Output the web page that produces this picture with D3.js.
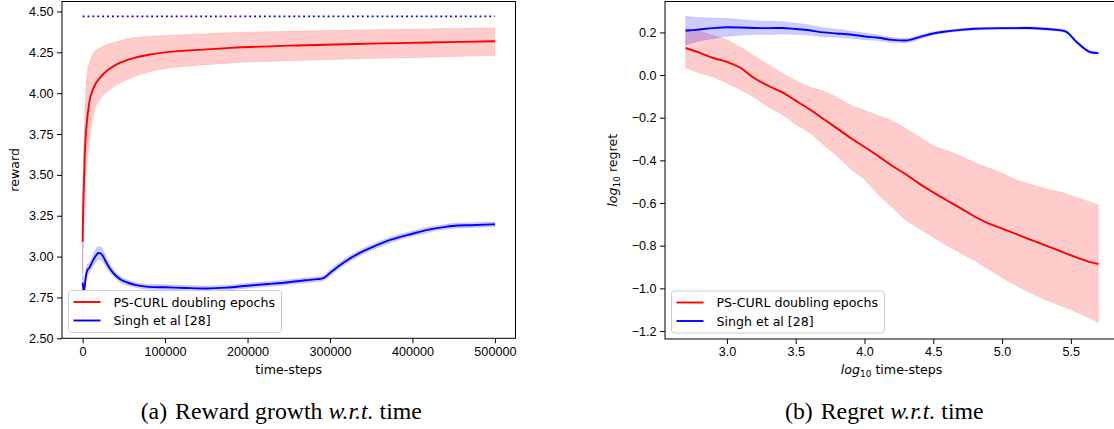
<!DOCTYPE html>
<html>
<head>
<meta charset="utf-8">
<script src="https://cdn.jsdelivr.net/npm/d3@7"></script>
<style>
  body { margin: 0; background: #fff; }
  svg { display: block; font-family: "DejaVu Sans", sans-serif; }
  .tick text { font-size: 12.6px; fill: #000; }
  .tick line { stroke: #000; }
</style>
</head>
<body>
<svg id="chart" width="1114" height="429"></svg>
<script>
// ---- (a) reward vs time-steps ----
const rewardTicksX = [0, 100000, 200000, 300000, 400000, 500000];
const rewardTicksY = [2.5, 2.75, 3.0, 3.25, 3.5, 3.75, 4.0, 4.25, 4.5];
const optimalReward = 4.47;

const curlT = [0, 500, 1000, 1500, 2500, 3500, 5500, 8000, 14000, 22000, 30000, 45000, 62000, 80000, 100000, 140000, 180000, 260000, 350000, 420000, 500000];
const curlReward = [3.09, 3.25, 3.36, 3.43, 3.60, 3.72, 3.84, 3.94, 4.04, 4.10, 4.14, 4.185, 4.215, 4.235, 4.25, 4.265, 4.277, 4.292, 4.303, 4.31, 4.318];
const curlRewardHi = [3.30, 3.50, 3.62, 3.72, 3.88, 3.98, 4.12, 4.18, 4.25, 4.28, 4.30, 4.32, 4.34, 4.348, 4.353, 4.362, 4.37, 4.38, 4.388, 4.394, 4.40];
const curlRewardLo = [2.90, 3.00, 3.08, 3.14, 3.30, 3.45, 3.58, 3.70, 3.88, 3.97, 4.01, 4.06, 4.10, 4.13, 4.15, 4.17, 4.185, 4.20, 4.212, 4.22, 4.23];

const singhT = [0, 1000, 2000, 3000, 4000, 6000, 8000, 10000, 13000, 16000, 19000, 22000, 25000, 28000, 32000, 38000, 46000, 55000, 65000, 80000, 100000, 125000, 150000, 175000, 200000, 225000, 250000, 270000, 285000, 292000, 300000, 310000, 320000, 335000, 350000, 375000, 400000, 420000, 440000, 455000, 470000, 500000];
const singhReward = [2.84, 2.80, 2.795, 2.84, 2.88, 2.92, 2.93, 2.95, 2.98, 3.005, 3.022, 3.02, 3.0, 2.97, 2.935, 2.895, 2.86, 2.84, 2.825, 2.815, 2.812, 2.808, 2.805, 2.81, 2.822, 2.832, 2.843, 2.855, 2.862, 2.868, 2.9, 2.94, 2.975, 3.02, 3.055, 3.105, 3.14, 3.165, 3.182, 3.19, 3.192, 3.198];
const singhRewardSpread = [0.245, 0.06, 0.04, 0.035, 0.035, 0.035, 0.03, 0.03, 0.035, 0.04, 0.04, 0.04, 0.035, 0.03, 0.025, 0.02, 0.018, 0.016, 0.015, 0.015, 0.015, 0.015, 0.015, 0.015, 0.015, 0.015, 0.015, 0.015, 0.015, 0.015, 0.018, 0.018, 0.018, 0.018, 0.018, 0.017, 0.016, 0.016, 0.015, 0.015, 0.015, 0.015];

// ---- (b) log10 regret vs log10 time-steps ----
const regretTicksX = [3.0, 3.5, 4.0, 4.5, 5.0, 5.5];
const regretTicksY = [-1.2, -1.0, -0.8, -0.6, -0.4, -0.2, 0.0, 0.2];
const logT = [2.7, 2.8, 2.9, 3.0, 3.1, 3.2, 3.3, 3.4, 3.5, 3.6, 3.7, 3.8, 3.9, 4.0, 4.1, 4.2, 4.3, 4.4, 4.5, 4.6, 4.7, 4.8, 4.9, 5.0, 5.1, 5.2, 5.3, 5.4, 5.46, 5.55, 5.64, 5.7];
const curlRegret = [0.127, 0.105, 0.08, 0.062, 0.033, -0.015, -0.05, -0.08, -0.12, -0.16, -0.205, -0.25, -0.295, -0.337, -0.38, -0.425, -0.465, -0.51, -0.55, -0.588, -0.625, -0.663, -0.695, -0.72, -0.745, -0.77, -0.795, -0.82, -0.835, -0.857, -0.877, -0.886];
const curlRegretHi = [0.22, 0.205, 0.185, 0.165, 0.13, 0.09, 0.05, 0.01, -0.025, -0.055, -0.075, -0.105, -0.14, -0.165, -0.19, -0.215, -0.25, -0.29, -0.33, -0.355, -0.38, -0.41, -0.435, -0.46, -0.49, -0.51, -0.53, -0.545, -0.555, -0.575, -0.595, -0.608];
const curlRegretLo = [0.033, 0.01, -0.01, -0.037, -0.07, -0.105, -0.15, -0.185, -0.23, -0.27, -0.325, -0.38, -0.44, -0.49, -0.56, -0.62, -0.68, -0.72, -0.76, -0.80, -0.835, -0.87, -0.91, -0.95, -0.985, -1.02, -1.05, -1.075, -1.09, -1.115, -1.14, -1.16];
const singhRegret = [0.208, 0.214, 0.22, 0.224, 0.223, 0.221, 0.22, 0.221, 0.216, 0.21, 0.2, 0.195, 0.19, 0.181, 0.175, 0.165, 0.162, 0.178, 0.195, 0.205, 0.212, 0.217, 0.219, 0.22, 0.22, 0.221, 0.217, 0.212, 0.205, 0.15, 0.108, 0.103];
const singhRegretHi = [0.275, 0.27, 0.268, 0.265, 0.26, 0.255, 0.252, 0.25, 0.243, 0.235, 0.222, 0.215, 0.207, 0.197, 0.188, 0.177, 0.172, 0.188, 0.202, 0.211, 0.218, 0.223, 0.225, 0.226, 0.226, 0.227, 0.223, 0.218, 0.211, 0.156, 0.114, 0.109];
const singhRegretLo = [0.142, 0.16, 0.172, 0.182, 0.187, 0.19, 0.19, 0.193, 0.19, 0.187, 0.18, 0.177, 0.173, 0.166, 0.162, 0.153, 0.152, 0.168, 0.188, 0.199, 0.206, 0.211, 0.213, 0.214, 0.214, 0.215, 0.211, 0.206, 0.199, 0.144, 0.102, 0.097];

const seriesNames = ['PS-CURL doubling epochs', 'Singh et al [28]'];
const seriesColors = ['#ff0000', '#0000ff'];

const svg = d3.select('#chart');

function drawPanel(box, xDomain, yDomain, xTicks, yTicks, xFmt, yFmt) {
    const x = d3.scaleLinear().domain(xDomain).range([box.left, box.right]);
    const y = d3.scaleLinear().domain(yDomain).range([box.bottom, box.top]);
    const g = svg.append('g');

    g.append('g')
        .attr('transform', `translate(0,${box.bottom})`)
        .call(d3.axisBottom(x).tickValues(xTicks).tickFormat(xFmt).tickSize(5).tickPadding(3.5))
        .call(a => a.select('.domain').remove());

    g.append('g')
        .attr('transform', `translate(${box.left},0)`)
        .call(d3.axisLeft(y).tickValues(yTicks).tickFormat(yFmt).tickSize(5).tickPadding(3.5))
        .call(a => a.select('.domain').remove());

    const plot = g.append('g');
    return { x, y, g, plot };
}

// shaded band, alpha like fill_between(alpha=0.2)
function band(p, xs, lo, hi, i) {
    const area = d3.area()
        .x((d, k) => p.x(xs[k]))
        .y0((d, k) => p.y(lo[k]))
        .y1((d, k) => p.y(hi[k]))
        .curve(d3.curveMonotoneX);
    p.plot.append('path')
        .attr('d', area(xs))
        .attr('fill', seriesColors[i])
        .attr('fill-opacity', 0.2)
        .attr('stroke', seriesColors[i])
        .attr('stroke-opacity', 0.1)
        .attr('stroke-width', 1);
}

function line(p, xs, ys, i) {
    const ln = d3.line()
        .x((d, k) => p.x(xs[k]))
        .y((d, k) => p.y(ys[k]))
        .curve(d3.curveMonotoneX);
    p.plot.append('path')
        .attr('d', ln(xs))
        .attr('fill', 'none')
        .attr('stroke', seriesColors[i])
        .attr('stroke-width', 1.9);
}

function frame(box) {
    svg.append('rect')
        .attr('x', box.left).attr('y', box.top)
        .attr('width', box.right - box.left).attr('height', box.bottom - box.top)
        .attr('fill', 'none').attr('stroke', '#000').attr('stroke-width', 1);
}

function legend(lx, ly) {
    const lg = svg.append('g').attr('transform', `translate(${lx},${ly})`);
    lg.append('rect')
        .attr('width', 213).attr('height', 42).attr('rx', 3)
        .attr('fill', '#fff').attr('fill-opacity', 0.8)
        .attr('stroke', '#cccccc');
    seriesNames.forEach((name, i) => {
        const yy = 11.5 + i * 18.5;
        lg.append('line')
            .attr('x1', 5).attr('x2', 32).attr('y1', yy).attr('y2', yy)
            .attr('stroke', seriesColors[i]).attr('stroke-width', 1.9);
        lg.append('text')
            .attr('x', 45).attr('y', yy).attr('dy', '0.36em')
            .attr('font-size', 12.6).text(name);
    });
}

// panel (a)
const boxA = { left: 62, right: 515.5, top: 1.5, bottom: 338.3 };
const pa = drawPanel(boxA, [-25000, 525000], [2.5, 4.561], rewardTicksX, rewardTicksY, d3.format('d'), d3.format('.2f'));
band(pa, curlT, curlRewardLo, curlRewardHi, 0);
band(pa, singhT, singhReward.map((v, k) => v - singhRewardSpread[k]), singhReward.map((v, k) => v + singhRewardSpread[k]), 1);
line(pa, curlT, curlReward, 0);
line(pa, singhT, singhReward, 1);
pa.plot.append('line')
    .attr('x1', pa.x(0)).attr('x2', pa.x(500000))
    .attr('y1', pa.y(optimalReward)).attr('y2', pa.y(optimalReward))
    .attr('stroke', '#0000ff').attr('stroke-width', 1.9)
    .attr('stroke-dasharray', '1.9,3');
frame(boxA);
legend(68.5, 290.5);

svg.append('text')
    .attr('transform', `translate(15,${(boxA.top + boxA.bottom) / 2}) rotate(-90)`)
    .attr('text-anchor', 'middle').attr('dy', '0.35em')
    .attr('font-size', 12.6).text('reward');
svg.append('text')
    .attr('x', (boxA.left + boxA.right) / 2).attr('y', 374)
    .attr('text-anchor', 'middle').attr('font-size', 12.6).text('time-steps');

// panel (b)
const boxB = { left: 665, right: 1119, top: 1.5, bottom: 339 };
const pb = drawPanel(boxB, [2.55, 5.85], [-1.2375, 0.345], regretTicksX, regretTicksY, d3.format('.1f'), d3.format('.1f'));
band(pb, logT, curlRegretLo, curlRegretHi, 0);
band(pb, logT, singhRegretLo, singhRegretHi, 1);
line(pb, logT, curlRegret, 0);
line(pb, logT, singhRegret, 1);
frame(boxB);
legend(671.5, 291);

// log10 labels with italic log and subscript
function logLabel(sel, rest) {
    sel.append('tspan').attr('font-style', 'italic').text('log');
    sel.append('tspan').attr('font-size', 9).attr('dy', 3).text('10');
    sel.append('tspan').attr('dy', -3).text(rest);
}
const yl = svg.append('text')
    .attr('transform', `translate(613,${(boxB.top + boxB.bottom) / 2}) rotate(-90)`)
    .attr('text-anchor', 'middle').attr('dy', '0.35em').attr('font-size', 12.6);
logLabel(yl, ' regret');
const xl = svg.append('text')
    .attr('x', 891.5).attr('y', 374)
    .attr('text-anchor', 'middle').attr('font-size', 12.6);
logLabel(xl, ' time-steps');

// captions
function caption(cx, tag, before, italic, after) {
    const t = svg.append('text')
        .attr('x', cx).attr('y', 419)
        .attr('font-family', '"Liberation Serif", "Times New Roman", serif')
        .attr('font-size', 23.8);
    t.append('tspan').text(tag);
    t.append('tspan').attr('dx', 8).text(before);
    t.append('tspan').attr('font-style', 'italic').text(italic);
    t.append('tspan').text(after);
}
caption(140.7, '(a)', 'Reward growth ', 'w.r.t.', ' time');
caption(785, '(b)', 'Regret ', 'w.r.t.', ' time');
</script>
</body>
</html>
